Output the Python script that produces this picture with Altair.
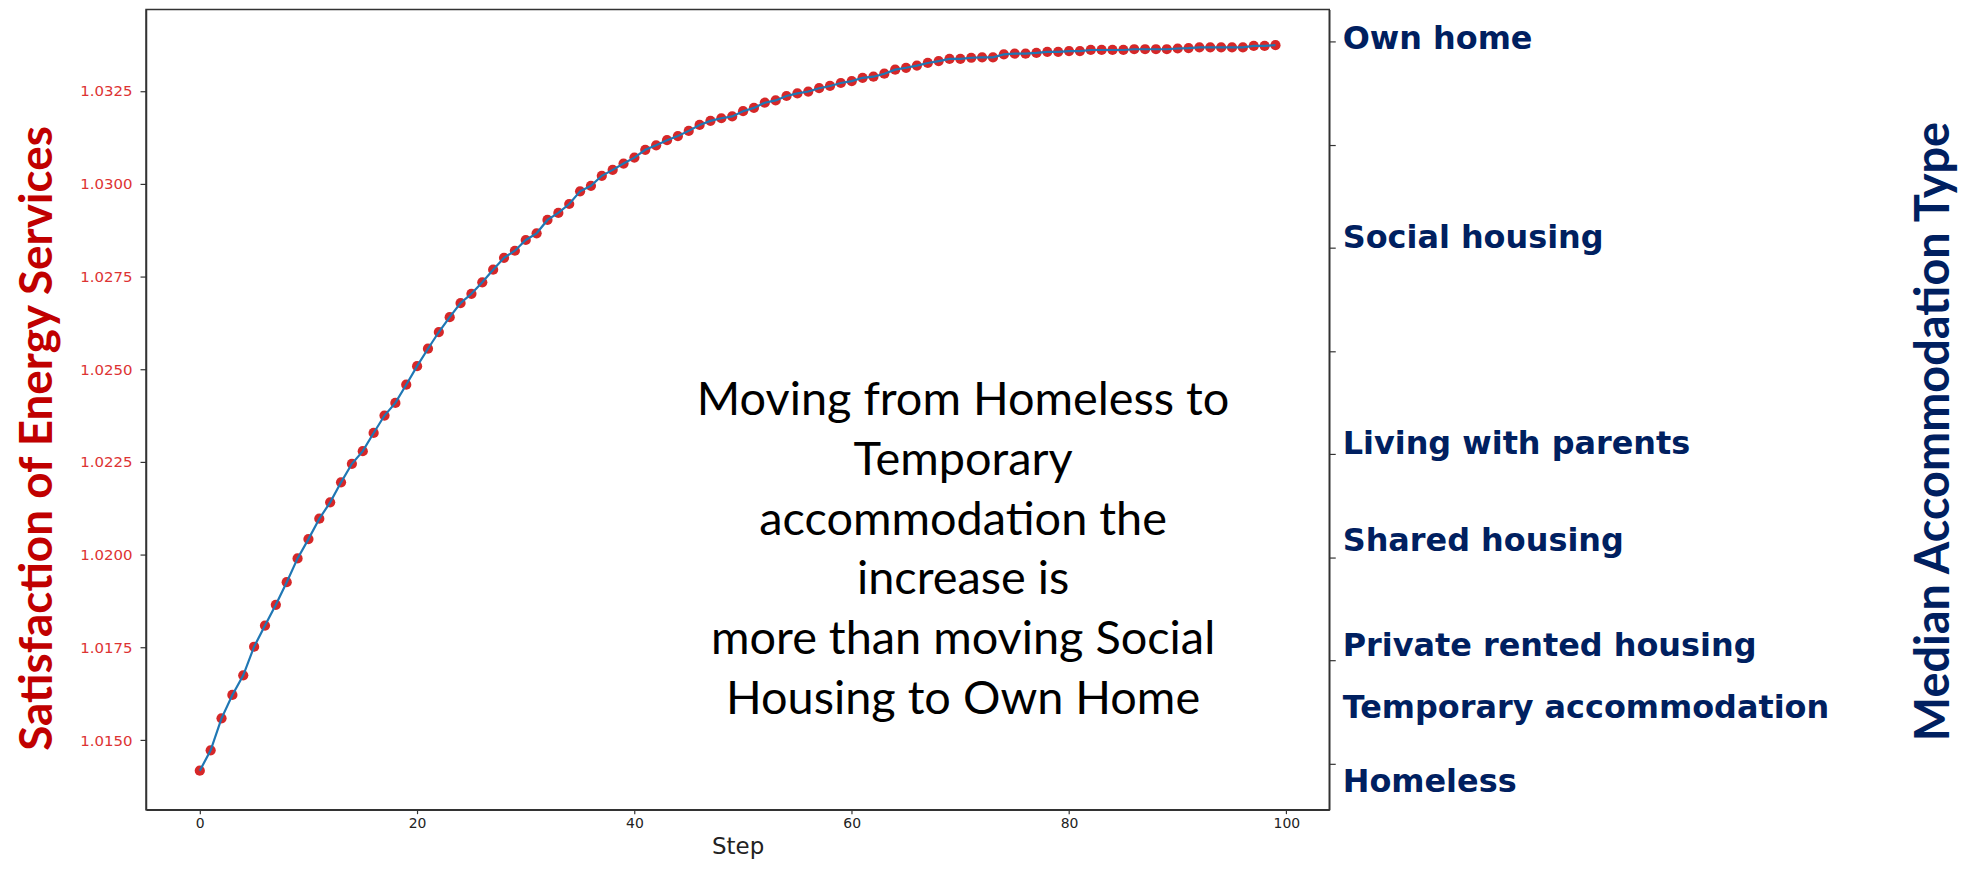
import altair as alt
import pandas as pd

# ---- data ----
steps = list(range(100))
satisfaction = [
    1.01418, 1.01473, 1.01559, 1.01622, 1.01675, 1.01752, 1.01809, 1.01865, 1.01926, 1.01990,
    1.02042, 1.02097, 1.02141, 1.02195, 1.02245, 1.02279, 1.02328, 1.02375, 1.02409, 1.02458,
    1.02508, 1.02555, 1.02600, 1.02640, 1.02678, 1.02703, 1.02734, 1.02768, 1.02800, 1.02819,
    1.02848, 1.02866, 1.02902, 1.02921, 1.02945, 1.02979, 1.02994, 1.03021, 1.03037, 1.03054,
    1.03070, 1.03091, 1.03103, 1.03117, 1.03128, 1.03142, 1.03158, 1.03169, 1.03176, 1.03181,
    1.03195, 1.03204, 1.03218, 1.03224, 1.03236, 1.03243, 1.03248, 1.03257, 1.03263, 1.03271,
    1.03276, 1.03285, 1.03288, 1.03296, 1.03307, 1.03312, 1.03318, 1.03325, 1.03330, 1.03336,
    1.03336, 1.03339, 1.03340, 1.03340, 1.03348, 1.03350, 1.03350, 1.03352, 1.03355, 1.03355,
    1.03357, 1.03357, 1.03360, 1.03360, 1.03360, 1.03360, 1.03362, 1.03362, 1.03362, 1.03362,
    1.03364, 1.03365, 1.03367, 1.03367, 1.03367, 1.03367, 1.03367, 1.03371, 1.03371, 1.03373,
]

accommodation_types = [
    "Own home", "Social housing", "Living with parents", "Shared housing",
    "Private rented housing", "Temporary accommodation", "Homeless",
]
accommodation_levels = [7.02, 5.09, 3.10, 2.16, 1.14, 0.54, -0.18]
right_ticks = [0, 1, 2, 3, 4, 5, 6, 7]

x_ticks = [0, 20, 40, 60, 80, 100]
y_ticks = [1.0150, 1.0175, 1.0200, 1.0225, 1.0250, 1.0275, 1.0300, 1.0325]

annotation_lines = [
    "Moving from Homeless to",
    "Temporary",
    "accommodation the",
    "increase is",
    "more than moving Social",
    "Housing to Own Home",
]

df = pd.DataFrame({"Step": steps, "Satisfaction": satisfaction})
labels_df = pd.DataFrame({"label": accommodation_types, "level": accommodation_levels})
note_df = pd.DataFrame({"n": [0]})

W, H = 1187.5, 803
INK = "#333333"
NAVY = "#002060"
DARKRED = "#c00000"

x_enc = alt.X(
    "Step:Q",
    scale=alt.Scale(domain=[-4.95, 103.95], nice=False, zero=False),
    axis=alt.Axis(
        values=x_ticks, format="d", title="Step", grid=False,
        tickSize=4, labelPadding=3, labelFont="DejaVu Sans", labelFontSize=14,
        labelColor="#222222", titleFont="DejaVu Sans", titleFontSize=23,
        titleFontWeight="normal", titleColor="#222222",
        titleBaseline="middle", titleY=37,
    ),
)
y_enc = alt.Y(
    "Satisfaction:Q",
    scale=alt.Scale(domain=[1.01313, 1.03469], nice=False, zero=False),
    axis=alt.Axis(
        values=y_ticks, format=".4f", grid=False, tickSize=6, labelPadding=8,
        labelFont="DejaVu Sans", labelFontSize=15, labelColor="#dd3333",
        title="Satisfaction of Energy Services", titleFont="Lato",
        titleFontSize=46, titleFontWeight="bold", titleColor=DARKRED,
        titleAngle=270, titleAlign="center", titleBaseline="middle",
        titleX=-108.5, titleY=430,
    ),
)

points = alt.Chart(df).mark_circle(size=105, color="#d62728", opacity=1).encode(
    x=x_enc, y=y_enc
)
line = alt.Chart(df).mark_line(color="#1f77b4", strokeWidth=2.2).encode(
    x=x_enc, y=y_enc
)
note = alt.Chart(note_df).mark_text(
    font="Lato", fontSize=47, color="black", align="center", baseline="middle",
    lineHeight=60,
).encode(x=alt.value(820), y=alt.value(393), text=alt.value(annotation_lines))

left = alt.layer(points, line, note)

right = alt.Chart(labels_df).mark_text(
    align="left", baseline="middle", font="DejaVu Sans", fontWeight="bold",
    fontSize=32, color=NAVY,
).encode(
    x=alt.value(1201),
    y=alt.Y(
        "level:Q",
        scale=alt.Scale(domain=[-0.444, 7.309], nice=False, zero=False),
        axis=alt.Axis(
            orient="right", values=right_ticks, labels=False, tickSize=6, grid=False,
            title="Median Accommodation Type", titleFont="Lato", titleFontSize=47,
            titleFontWeight="bold", titleColor=NAVY, titleAngle=270,
            titleAlign="center", titleBaseline="middle", titleX=607, titleY=423,
        ),
    ),
    text="label:N",
)

chart = (
    alt.layer(left, right)
    .resolve_scale(y="independent")
    .properties(
        width=W, height=H,
        autosize=alt.AutoSizeParams(type="none"),
        padding={"left": 138.5, "top": 0, "right": 632, "bottom": 50},
    )
    .configure_view(stroke=INK, strokeWidth=1.5)
    .configure_axis(domainColor=INK, domainWidth=1.5, tickColor=INK, tickWidth=1.2)
)

chart.save("out.html", embed_options={"renderer": "svg", "actions": False})
